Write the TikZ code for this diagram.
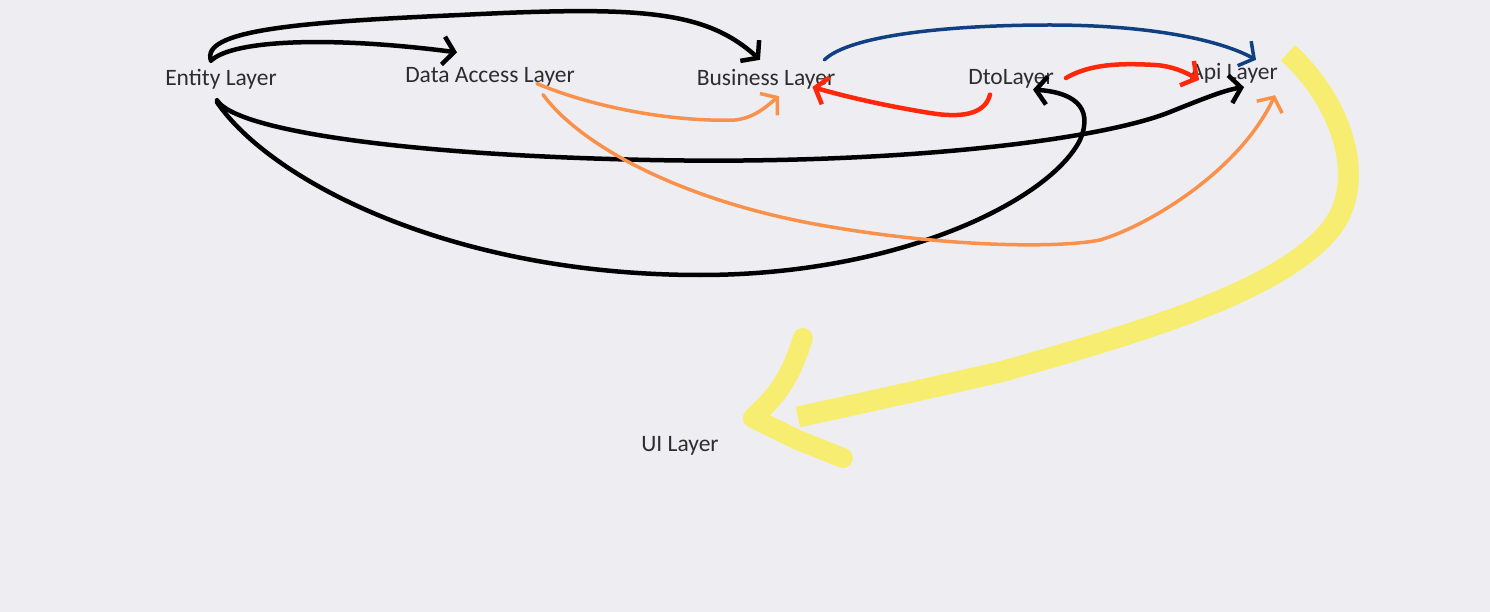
\documentclass[tikz,border=0pt]{standalone}
\usepackage{fontspec}
\setmainfont{Carlito}
\usepackage{tikz}
\usetikzlibrary{arrows.meta}

\definecolor{paper}{RGB}{238,238,242}
\definecolor{ink}{RGB}{45,45,45}
\definecolor{penblue}{RGB}{16,64,130}
\definecolor{penred}{RGB}{255,40,10}
\definecolor{penorange}{RGB}{250,145,75}
\definecolor{penyellow}{RGB}{247,237,112}

\tikzset{
  layer/.style={inner sep=0pt, text=ink, font=\fontsize{23.5}{26}\selectfont},
  pen/.style={line width=#1, line cap=round, line join=round},
  pen/.default=4.5pt,
  tip/.style={-{Straight Barb[length=11pt,width=28pt]}}
}

\begin{document}
\begin{tikzpicture}[x=1pt,y=-1pt]
      \fill[paper] (0,0) rectangle (1490,612);
      \useasboundingbox (0,0) rectangle (1490,612);

      \node[layer] (ent) at (221,79) {Entity Layer};
      \node[layer] (dal) at (490,77) {Data Access Layer};
      \node[layer] (bus) at (766,79) {Business Layer};
      \node[layer] (dto) at (1011,79) {DtoLayer};
      \node[layer] (api) at (1234,73) {Api Layer};
      \node[layer] (ui) at (680,446) {UI Layer};
      \coordinate (uitip) at ([shift={(34,-28)}]ui.east);

      % black strokes out of the entity layer
      \draw[pen, tip] ([shift={(-10,-8)}]ent.north) .. controls (200,30) and (300,22) .. (460,15)
            .. controls (640,6) and (705,10) .. ([shift={(-6,-9)}]bus.north);
      \draw[pen, tip] ([shift={(-9,-9)}]ent.north) .. controls (235,40) and (330,36) .. ([shift={(-33,-15)}]dal.north);
      \draw[pen, tip] ([shift={(-4,11)}]ent.south) .. controls (235,130) and (400,155) .. (650,160)
            .. controls (900,165) and (1100,140) .. (1170,112)
            .. controls (1205,98) and (1225,90) .. ([shift={(10,4)}]api.south);
      \draw[pen, tip] ([shift={(-4,13)}]ent.south) .. controls (270,180) and (450,275) .. (700,275)
            .. controls (900,275) and (1050,200) .. (1080,140)
            .. controls (1095,105) and (1070,92) .. ([shift={(22,1)}]dto.south);

      % blue
      \draw[pen=3.5pt, penblue, tip] ([shift={(-11,-9)}]bus.north east) .. controls (850,35) and (950,25) .. (1050,25)
            .. controls (1150,25) and (1220,40) .. ([shift={(22,-3)}]api.north);

      % red
      \draw[pen, penred, tip] ([shift={(-21,6)}]dto.south) .. controls (985,115) and (960,118) .. (930,113)
            .. controls (880,105) and (840,95) .. ([shift={(-23,8)}]bus.east);
      \draw[pen, penred, tip] ([shift={(12,-1)}]dto.east) .. controls (1090,64) and (1120,63) .. (1155,65)
            .. controls (1172,66) and (1185,72) .. ([shift={(9,7)}]api.west);

      % orange
      \draw[pen=3.5pt, penorange, tip] ([shift={(47,-3)}]dal.south) .. controls (600,110) and (680,122) .. (735,120)
            .. controls (755,118) and (768,105) .. ([shift={(13,7)}]bus.south);
      \draw[pen=3.5pt, penorange, tip] ([shift={(53,8)}]dal.south) .. controls (580,145) and (680,200) .. (820,225)
            .. controls (950,248) and (1060,248) .. (1100,240)
            .. controls (1150,225) and (1240,170) .. ([shift={(41,12)}]api.south);

      % yellow
      \draw[line width=21pt, penyellow] ([shift={(10,-10)}]api.north east) .. controls (1340,100) and (1370,180) .. (1330,230)
            .. controls (1280,290) and (1150,330) .. (1000,372)
            .. controls (900,395) and (830,410) .. ([shift={(45,-1)}]uitip);
      \draw[pen=20pt, penyellow] ([shift={(50,-80)}]uitip) .. controls ([shift={(35,-30)}]uitip) and ([shift={(15,-15)}]uitip) .. (uitip)
            -- ([shift={(45,22)}]uitip) -- ([shift={(90,40)}]uitip);
    \end{tikzpicture}
\end{document}
